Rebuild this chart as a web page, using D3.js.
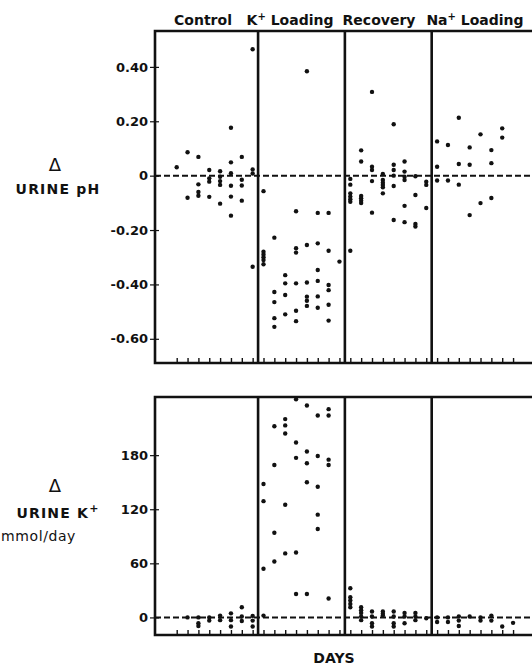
<!DOCTYPE html>
<html>
<head>
<meta charset="utf-8">
<script src="https://cdn.jsdelivr.net/npm/d3@7"></script>
<style>
  body { margin: 0; background: #fff; }
  text { font-family: "DejaVu Sans", sans-serif; fill: #111; }
</style>
</head>
<body>
<div id="chart"></div>
<script>
// ---- data ----
const phaseNames = ['Control', 'K', 'Recovery', 'Na'];
const phaseBreaks = [9.5, 17.5, 25.5];          // day boundaries between phases
const dayTicks = d3.range(2, 34);
const phTicks = [0.4, 0.2, 0, -0.2, -0.4, -0.6];
const kTicks = [180, 120, 60, 0];

// [day, values of urine pH change]
const phData = [
  [2, [0.031]],
  [3, [0.086, -0.081]],
  [4, [0.069, -0.032, -0.060, -0.074]],
  [5, [0.021, -0.010, -0.022, -0.078]],
  [6, [0.016, -0.004, -0.020, -0.034, -0.103]],
  [7, [0.176, 0.049, 0.009, -0.037, -0.077, -0.147]],
  [8, [0.069, -0.015, -0.036, -0.092]],
  [9, [0.465, 0.023, 0.008, -0.335]],
  [10, [-0.057, -0.280, -0.290, -0.300, -0.310, -0.326]],
  [11, [-0.228, -0.428, -0.465, -0.524, -0.556]],
  [12, [-0.366, -0.396, -0.439, -0.510]],
  [13, [-0.131, -0.267, -0.283, -0.396, -0.497, -0.535]],
  [14, [0.384, -0.255, -0.393, -0.445, -0.460, -0.479]],
  [15, [-0.137, -0.249, -0.347, -0.387, -0.444, -0.486]],
  [16, [-0.137, -0.276, -0.402, -0.421, -0.475, -0.533]],
  [17, [-0.316]],
  [18, [-0.012, -0.033, -0.065, -0.077, -0.087, -0.096, -0.276]],
  [19, [0.093, 0.052, -0.075, -0.083, -0.092, -0.101]],
  [20, [0.308, 0.033, 0.021, -0.020, -0.136]],
  [21, [0.006, -0.016, -0.026, -0.034, -0.043, -0.065]],
  [22, [0.189, 0.040, 0.021, 0.000, -0.038, -0.163]],
  [23, [0.052, 0.015, -0.004, -0.016, -0.111, -0.171]],
  [24, [-0.002, -0.071, -0.178, -0.187]],
  [25, [-0.022, -0.034, -0.119]],
  [26, [0.126, 0.033, -0.018]],
  [27, [0.113, -0.018]],
  [28, [0.213, 0.043, -0.033]],
  [29, [0.104, 0.040, -0.145]],
  [30, [0.152, -0.101]],
  [31, [0.094, 0.046, -0.082]],
  [32, [0.174, 0.140]]
];

// [day, values of urine K+ change, mmol/day]
const kData = [
  [3, [0]],
  [4, [0, -6.5, -9.5]],
  [5, [0, -3.5]],
  [6, [2, -3]],
  [7, [4.5, -3, -10]],
  [8, [11.3, 1, -4]],
  [9, [1.7, -3.5, -10]],
  [10, [148, 129, 54, 2]],
  [11, [212, 169, 94, 62]],
  [12, [220, 213, 204, 125, 71]],
  [13, [242, 194, 177, 72, 26]],
  [14, [235, 184, 171, 150, 26]],
  [15, [224, 179, 145, 114, 98]],
  [16, [231, 224, 175, 169, 21]],
  [18, [32.4, 22.4, 18.7, 15, 11.3]],
  [19, [11.3, 8, 5, 1, -3]],
  [20, [6.5, 1, -6.5, -10]],
  [21, [6.5, 4, 2]],
  [22, [6.5, 1, -6.5, -10]],
  [23, [5, 1, -6.5]],
  [24, [5, 1, -3]],
  [25, [-1]],
  [26, [0, -5]],
  [27, [0, -5]],
  [28, [1, -3.5, -9.5]],
  [29, [1]],
  [30, [0, -3.5]],
  [31, [2, -3.5]],
  [32, [-10]],
  [33, [-6]]
];

// ---- layout ----
const width = 532, height = 666;
const left = 155, right = 534;
const titleX = [203, 290, 379, 475];

const svg = d3.select('#chart').append('svg')
  .attr('width', width)
  .attr('height', height);

const x = d3.scaleLinear().domain([0, 34.93]).range([left, right]);

const panels = [
  {data: phData, ticks: phTicks, top: 31, bottom: 363,
   y: d3.scaleLinear().domain([-0.689, 0.532]).range([363, 31]),
   fmt: d => d === 0 ? '0' : d3.format('.2f')(d).replace('−', '-')},
  {data: kData, ticks: kTicks, top: 397, bottom: 635,
   y: d3.scaleLinear().domain([-19.5, 244.5]).range([635, 397]),
   fmt: d => String(d)}
];

panels.forEach(p => {
  const g = svg.append('g');
  let y = p.y;

  // zero line
  g.append('line')
    .attr('x1', left).attr('x2', right)
    .attr('y1', y(0)).attr('y2', y(0))
    .attr('stroke', '#111').attr('stroke-width', 2)
    .attr('stroke-dasharray', '6,3');

  // y axis
  let yAxis = d3.axisLeft(y).tickValues(p.ticks).tickSize(5).tickFormat(p.fmt);
  let ya = g.append('g')
    .attr('transform', 'translate(' + left + ',0)')
    .call(yAxis);
  ya.select('.domain').remove();
  ya.selectAll('.tick line').attr('x1', 4).attr('stroke', '#111').attr('stroke-width', 1.2);
  ya.selectAll('.tick text')
    .attr('x', -7)
    .style('font-family', '"DejaVu Sans", sans-serif')
    .style('font-size', '13px')
    .style('font-weight', 'bold')
    .attr('fill', '#111');

  // x axis ticks (inward)
  let xAxis = d3.axisBottom(x).tickValues(dayTicks).tickSize(-5).tickFormat('');
  let xa = g.append('g')
    .attr('transform', 'translate(0,' + p.bottom + ')')
    .call(xAxis);
  xa.select('.domain').remove();
  xa.selectAll('.tick line').attr('stroke', '#111').attr('stroke-width', 1.4);

  // frame
  g.append('path')
    .attr('d', 'M' + right + ',' + p.top + 'H' + left + 'V' + p.bottom + 'H' + right)
    .attr('fill', 'none').attr('stroke', '#111').attr('stroke-width', 2.6);

  // phase dividers
  g.selectAll('.divider')
    .data(phaseBreaks)
    .enter()
      .append('line')
      .attr('x1', d => x(d)).attr('x2', d => x(d))
      .attr('y1', p.top).attr('y2', p.bottom)
      .attr('stroke', '#111').attr('stroke-width', 2.6);

  // points
  let pts = _flatten(p.data);
  g.selectAll('.dot')
    .data(pts)
    .enter()
      .append('circle')
      .attr('cx', d => x(d.day))
      .attr('cy', d => y(d.value))
      .attr('r', 2.2)
      .attr('fill', '#111');
});

function _flatten(rows) {
  let out = [];
  rows.forEach(([day, vals]) => vals.forEach(v => out.push({day, value: v})));
  return out;
}

// phase titles
const titles = svg.append('g')
  .style('font-size', '14px')
  .style('font-weight', 'bold');

phaseNames.forEach((name, i) => {
  let t = titles.append('text')
    .attr('x', titleX[i]).attr('y', 25)
    .attr('text-anchor', 'middle');
  if (name === 'K' || name === 'Na') {
    t.append('tspan').text(name);
    t.append('tspan').attr('dy', -5).style('font-size', '10px').text('+');
    t.append('tspan').attr('dy', 5).text(' Loading');
  } else {
    t.text(name);
  }
});

// y labels
const ylab = svg.append('g').attr('text-anchor', 'middle').style('font-weight', 'bold');
ylab.append('text').attr('x', 55).attr('y', 171).style('font-size', '18px').style('font-weight', 'normal').text('Δ');
ylab.append('text').attr('x', 58).attr('y', 194).style('font-size', '14px').style('letter-spacing', '1.2px').text('URINE pH');
ylab.append('text').attr('x', 55).attr('y', 492).style('font-size', '18px').style('font-weight', 'normal').text('Δ');
let uk = ylab.append('text').attr('x', 58).attr('y', 518).style('font-size', '14px').style('letter-spacing', '1.2px');
uk.append('tspan').text('URINE  K');
uk.append('tspan').attr('dy', -6).style('font-size', '11px').text('+');
ylab.append('text').attr('x', 1).attr('y', 541).attr('text-anchor', 'start')
  .style('font-size', '14px').style('font-weight', 'normal').style('letter-spacing', '0.6px').text('mmol/day');

// x label
svg.append('text')
  .attr('x', 334).attr('y', 663)
  .attr('text-anchor', 'middle')
  .style('font-size', '14px').style('font-weight', 'bold')
  .text('DAYS');
</script>
</body>
</html>
